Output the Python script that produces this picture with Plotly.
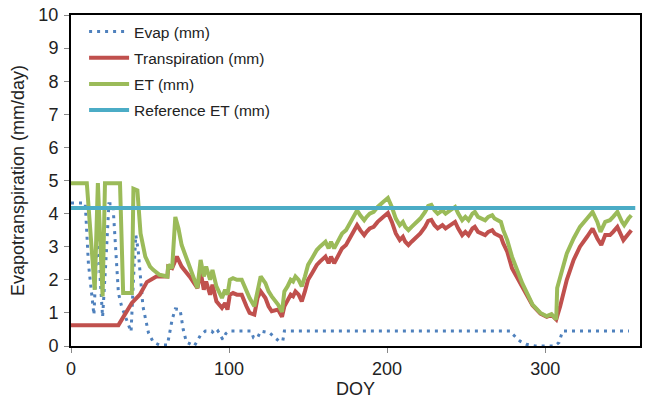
import plotly.graph_objects as go

# ---------------- data ----------------
evap_doy = [0, 9, 11, 14.5, 16, 17, 18.5, 20, 22, 24, 26.5, 28, 30, 32, 36, 38, 39.5, 41,
            42.5, 44, 45.5, 49, 52, 56, 61, 64, 66, 69, 71, 73, 78, 82, 85, 89, 91, 93,
            96, 98, 100, 114, 115.5, 118, 120, 125.5, 128, 131.5, 134, 135, 278, 279.6,
            284, 288, 293.7, 306, 308.7, 311, 353]
evap_mm = [4.32, 4.32, 2.5, 0.94, 2.5, 4.3, 2.0, 0.88, 2.5, 4.3, 4.3, 3.0, 1.6, 1.2, 0.7,
           0.43, 2.0, 3.35, 2.9, 1.9, 1.2, 0.4, 0.12, 0.03, 0.03, 0.8, 1.12, 1.1, 0.5,
           0.12, 0.0, 0.33, 0.45, 0.45, 0.35, 0.45, 0.2, 0.38, 0.45, 0.45, 0.25, 0.25,
           0.45, 0.4, 0.3, 0.15, 0.15, 0.45, 0.45, 0.35, 0.15, 0.05, 0.0, 0.0, 0.1,
           0.45, 0.45]

trans_doy = [0, 30, 38.5, 43.5, 48, 54, 61, 61.5, 64, 67, 70, 75, 80, 82, 84, 85.5, 88,
             89.5, 92, 95.5, 97.5, 99, 100.5, 102.5, 105, 108, 111, 113, 116, 118, 120,
             123, 125, 127, 131, 133.5, 135, 137, 139, 140.5, 142, 144, 146, 148, 150,
             152.5, 155.5, 157.5, 159, 161, 163, 164.5, 166.5, 169, 171.5, 174, 176.5,
             178.5, 181, 183, 185.5, 187, 189, 191.5, 194, 197.5, 200.5, 203, 205.5, 208,
             210, 211.5, 213.5, 215.5, 217.5, 221, 224, 226, 228, 230, 232, 235, 237,
             238.5, 241, 243, 245, 247.5, 249.5, 251.5, 254, 255.5, 257.5, 260, 262, 264,
             266.5, 268, 270, 272, 273.5, 276, 279, 282, 285.5, 289, 292, 297, 301, 304,
             307, 309.5, 313.7, 318, 322, 326.5, 330, 333, 335.5, 338, 341, 343, 345.7,
             349.5, 352.7, 354.5]
trans_mm = [0.63, 0.63, 1.3, 1.55, 1.93, 2.1, 2.1, 2.4, 2.35, 2.7, 2.4, 2.1, 1.75, 2.25,
            1.7, 1.95, 1.55, 1.85, 1.35, 1.15, 1.3, 1.1, 1.55, 1.6, 1.55, 1.55, 1.2, 1.0,
            0.95, 1.45, 1.65, 1.45, 1.2, 1.05, 1.1, 0.88, 1.2, 1.35, 1.55, 1.5, 1.65, 1.55,
            1.35, 1.65, 2.0, 2.2, 2.45, 2.55, 2.6, 2.7, 2.5, 2.7, 2.5, 2.75, 2.95, 3.05,
            3.25, 3.45, 3.65, 3.5, 3.35, 3.45, 3.55, 3.6, 3.75, 3.9, 4.02, 3.75, 3.4, 3.2,
            3.3, 3.15, 3.05, 3.15, 3.25, 3.4, 3.6, 3.78, 3.81, 3.65, 3.55, 3.65, 3.55, 3.6,
            3.65, 3.75, 3.55, 3.35, 3.45, 3.35, 3.55, 3.6, 3.45, 3.4, 3.35, 3.45, 3.5, 3.4,
            3.35, 3.3, 3.1, 2.85, 2.35, 2.1, 1.8, 1.52, 1.23, 0.98, 0.88, 0.94, 0.8, 1.2,
            2.0, 2.6, 3.0, 3.3, 3.55, 3.25, 3.05, 3.35, 3.35, 3.45, 3.6, 3.2, 3.4, 3.5]

et_doy = [0, 10, 15, 17, 20, 21.5, 31, 33, 38.5, 39.5, 42, 44, 47, 50, 52, 56, 61, 61.5,
          64, 66, 68, 70, 75, 80, 82, 84, 85.5, 88, 89.5, 92, 95.5, 97.5, 99, 100.5,
          102.5, 105, 108, 111, 113, 116, 118, 120, 123, 125, 127, 131, 133.5, 135, 137,
          139, 140.5, 142, 144, 146, 148, 150, 152.5, 155.5, 157.5, 159, 161, 163, 164.5,
          166.5, 169, 171.5, 174, 176.5, 178.5, 181, 183, 185.5, 187, 189, 191.5, 194,
          197.5, 200.5, 203, 205.5, 208, 210, 211.5, 213.5, 215.5, 217.5, 221, 224, 226,
          228, 230, 232, 235, 237, 238.5, 241, 243, 245, 247.5, 249.5, 251.5, 254, 255.5,
          257.5, 260, 262, 264, 266.5, 268, 270, 272, 273.5, 276, 279, 282, 285.5, 289,
          292, 297, 301, 304, 307, 307.6, 310.6, 313.7, 318, 322, 326.5, 330, 333, 335,
          338, 341, 343, 345.7, 348.6, 350, 352.7, 354.5]
et_mm = [4.92, 4.92, 1.7, 4.92, 1.5, 4.92, 4.92, 1.6, 1.6, 4.75, 4.7, 3.4, 2.7, 2.4, 2.3,
         2.15, 2.1, 2.45, 2.35, 3.9, 3.55, 3.05, 2.4, 1.75, 2.6, 2.1, 2.4, 2.0, 2.3, 1.8,
         1.45, 1.7, 1.55, 2.0, 2.05, 2.0, 2.0, 1.65, 1.45, 1.2, 1.7, 2.1, 1.9, 1.65, 1.5,
         1.25, 1.03, 1.65, 1.8, 2.0, 1.95, 2.1, 2.0, 1.8, 2.1, 2.45, 2.65, 2.9, 3.0, 3.05,
         3.15, 2.95, 3.15, 2.95, 3.2, 3.4, 3.5, 3.7, 3.9, 4.1, 3.95, 3.8, 3.9, 4.0, 4.05,
         4.2, 4.35, 4.47, 4.2, 3.85, 3.65, 3.75, 3.6, 3.5, 3.6, 3.7, 3.85, 4.05, 4.23,
         4.26, 4.1, 4.0, 4.1, 4.0, 4.05, 4.1, 4.2, 4.0, 3.8, 3.9, 3.8, 4.0, 4.05, 3.9,
         3.85, 3.8, 3.9, 3.95, 3.85, 3.8, 3.75, 3.5, 3.2, 2.7, 2.3, 1.9, 1.55, 1.25, 1.0,
         0.9, 0.96, 0.8, 1.75, 2.3, 2.8, 3.25, 3.6, 3.85, 4.05, 3.75, 3.45, 3.75, 3.8,
         3.9, 4.05, 3.75, 3.65, 3.85, 3.95]

ref_doy = [0, 357]
ref_mm = [4.17, 4.17]

x_ticks = [0, 100, 200, 300]
y_ticks = list(range(0, 11))

assert len(evap_doy) == len(evap_mm)
assert len(trans_doy) == len(trans_mm)
assert len(et_doy) == len(et_mm)

FONT = "Liberation Sans"

fig = go.Figure()
fig.add_trace(go.Scatter(x=evap_doy, y=evap_mm, mode="lines", name="Evap (mm)",
                         legendgroup="a",
                         line=dict(color="#4F81BD", width=3, dash="3px,5px")))
fig.add_trace(go.Scatter(x=trans_doy, y=trans_mm, mode="lines", name="Transpiration (mm)",
                         legendgroup="b",
                         line=dict(color="#C0504D", width=4)))
fig.add_trace(go.Scatter(x=et_doy, y=et_mm, mode="lines", name="ET (mm)",
                         legendgroup="c",
                         line=dict(color="#9BBB59", width=4)))
fig.add_trace(go.Scatter(x=ref_doy, y=ref_mm, mode="lines", name="Reference ET (mm)",
                         legendgroup="d",
                         line=dict(color="#4BACC6", width=4)))

fig.update_layout(
    width=648, height=409,
    margin=dict(l=71, r=8, t=15, b=63),
    paper_bgcolor="white", plot_bgcolor="white",
    font=dict(family=FONT, size=15, color="#222"),
    showlegend=True,
    legend=dict(x=0.023, y=1.0, xanchor="left", yanchor="top",
                bgcolor="rgba(0,0,0,0)", font=dict(size=15.5, family=FONT),
                tracegroupgap=3, traceorder="grouped", itemwidth=40),
)
fig.update_xaxes(range=[0, 360], tickvals=x_ticks, ticks="outside", ticklen=5,
                 tickcolor="#888", showgrid=False, zeroline=False, automargin=False,
                 showline=True, linecolor="black", linewidth=2, mirror=True,
                 ticklabelstandoff=0, ticklabeloverflow="allow",
                 tickfont=dict(size=18), title=dict(text="DOY", font=dict(size=18), standoff=0))
fig.update_yaxes(range=[0, 10], tickvals=y_ticks, ticks="outside", ticklen=5,
                 tickcolor="#888", showgrid=False, zeroline=False, automargin=False,
                 showline=True, linecolor="black", linewidth=2, mirror=True,
                 ticklabelstandoff=2, ticklabeloverflow="allow",
                 tickfont=dict(size=18),
                 title=dict(text="Evapotranspiration (mm/day)", font=dict(size=18), standoff=9))

# remove the browser's default 8px body margin so the 648x409 figure fills the window
fig.write_html("out.html", config={"displayModeBar": False},
               post_script="document.body.style.margin='0';")
